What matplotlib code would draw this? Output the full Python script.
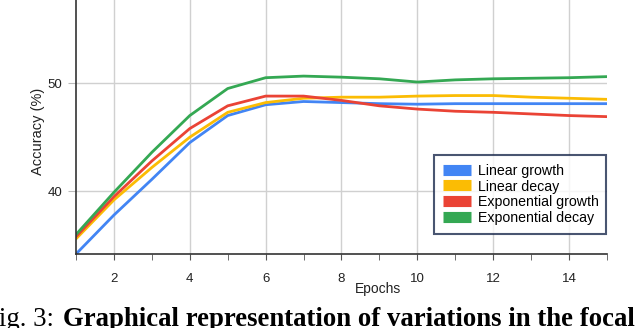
import numpy as np
import matplotlib.pyplot as plt

epochs = [1, 2, 3, 4, 5, 6, 7, 8, 9, 10, 11, 12, 13, 14, 15]
linear_growth = [34.2, 37.8, 41.1, 44.5, 47.0, 48.0, 48.3, 48.2, 48.1, 48.05, 48.1, 48.1, 48.1, 48.1, 48.1]
linear_decay = [35.6, 39.2, 42.2, 45.0, 47.3, 48.2, 48.6, 48.7, 48.7, 48.8, 48.85, 48.85, 48.7, 48.6, 48.5]
exp_growth = [35.8, 39.5, 42.8, 45.8, 47.9, 48.8, 48.8, 48.4, 47.9, 47.6, 47.4, 47.3, 47.15, 47.0, 46.9]
exp_decay = [36.0, 39.9, 43.6, 47.0, 49.5, 50.5, 50.65, 50.55, 50.4, 50.1, 50.3, 50.4, 50.45, 50.5, 50.6]

names = ["Linear growth", "Linear decay", "Exponential growth", "Exponential decay"]
colors = ["#4285F4", "#FBBC04", "#EA4335", "#34A853"]

plt.rcParams['font.family'] = ['Liberation Sans', 'DejaVu Sans']

fig = plt.figure(figsize=(6.4, 3.28), dpi=100)
ax = fig.add_axes([76/640, 1 - 254/328, (607-76)/640, 254/328])

for ys, c, n in zip([linear_growth, linear_decay, exp_growth, exp_decay], colors, names):
    ax.plot(epochs, ys, color=c, lw=2, label=n, solid_capstyle='round')

ax.set_xticks([2, 4, 6, 8, 10, 12, 14])
ax.set_xticks(range(1, 16), minor=True)
ax.set_yticks([40, 50, 60])
ax.set_xlim(1, 15)
ax.set_ylim(34.2, 50 + 83/10.8)
ax.grid(True, color="#d0d0d0", lw=1)
ax.set_axisbelow(True)
for s in ["top", "right"]:
    ax.spines[s].set_visible(False)
ax.spines["left"].set_color("#333333")
ax.spines["bottom"].set_color("#333333")
ax.spines["left"].set_linewidth(1.2)
ax.spines["bottom"].set_linewidth(1.2)
ax.tick_params(axis='y', length=6, color="#bbbbbb", labelsize=9.5, pad=4, labelcolor="#222222")
ax.tick_params(axis='x', which='both', length=4, color="#555555", labelsize=9.5, pad=10, labelcolor="#222222")

fig.text(378/640, 1 - 289/328, "Epochs", ha='center', va='center', fontsize=10, color="#222222")
fig.text(38/640, 1 - 131/328, "Accuracy (%)", ha='center', va='center', rotation=90, fontsize=10.5, color="#222222")

leg = ax.legend(loc='center', bbox_to_anchor=((434-76)/531, 1 - 234/254, (606-434)/531, (234-155)/254),
                mode='expand', frameon=True, fancybox=False, fontsize=10.2, handlelength=2.0, handleheight=0.9,
                labelspacing=0.12, borderpad=0.6, handletextpad=0.5, borderaxespad=0)
leg.get_frame().set_edgecolor("#1c2a4d")
leg.get_frame().set_linewidth(1.5)
for h in leg.legend_handles:
    h.set_linewidth(8)
    h.set_solid_capstyle('butt')

# caption, cut off at the edges as in the source
fig.canvas.draw()
r = fig.canvas.get_renderer()
fsz = 19.3
tf = fig.text(0, 0, "F", family='Liberation Serif', fontsize=fsz)
wF = tf.get_window_extent(r).width
tf.remove()
x0 = -1 - wF
t1 = fig.text(x0 / 640, 1 - 326/328, "Fig. 3: ", family='Liberation Serif', fontsize=fsz, va='baseline')
w1 = t1.get_window_extent(r).width
fig.text((x0 + w1 + 2) / 640, 1 - 326/328, "Graphical representation of variations in the focal",
         family='Liberation Serif', fontsize=fsz, weight='bold', va='baseline')

fig.savefig("out.png", dpi=100)
